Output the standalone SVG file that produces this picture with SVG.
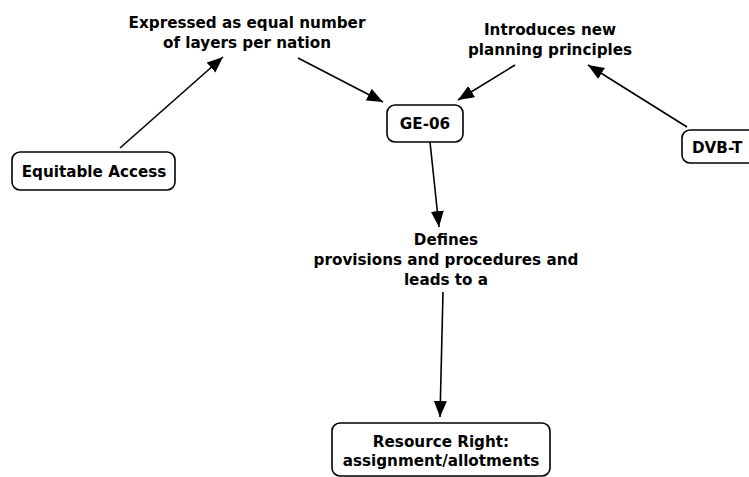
<svg xmlns="http://www.w3.org/2000/svg" width="749" height="477" viewBox="0 0 749 477">
<defs>
<marker id="ah" markerUnits="userSpaceOnUse" markerWidth="17" markerHeight="14" refX="16" refY="6.5" orient="auto">
<path d="M0,0 L16,6.5 L0,13 z" fill="#000"/>
</marker>
<style>
text{font-family:"DejaVu Sans","Liberation Sans",sans-serif;font-size:15.2px;font-weight:bold;fill:#000;text-anchor:middle}
.box{fill:#fff;stroke:#000;stroke-width:1.6}
.con line{stroke:#000;stroke-width:1.6;marker-end:url(#ah)}
</style>
</defs>
<rect width="749" height="477" fill="#fff"/>
<g id="connectors" class="con">
<line x1="120" y1="148" x2="223" y2="57"/>
<line x1="298" y1="58" x2="383" y2="102"/>
<line x1="687" y1="127" x2="588" y2="65"/>
<line x1="515" y1="65" x2="458" y2="100"/>
<line x1="430" y1="142" x2="439" y2="227"/>
<line x1="443" y1="292" x2="440" y2="417"/>
</g>
<g id="lp-expressed">
<text x="247" y="28">Expressed as equal number</text>
<text x="247" y="48">of layers per nation</text>
</g>
<g id="lp-introduces">
<text x="550" y="35">Introduces new</text>
<text x="550" y="55">planning principles</text>
</g>
<g id="lp-defines">
<text x="446" y="245">Defines</text>
<text x="446" y="265">provisions and procedures and</text>
<text x="446" y="285">leads to a</text>
</g>
<g id="equitable-access">
<rect class="box" x="12" y="152" width="163" height="38" rx="8"/>
<text x="94" y="177">Equitable Access</text>
</g>
<g id="ge-06">
<rect class="box" x="387" y="105" width="76" height="37" rx="8"/>
<text x="425" y="129">GE-06</text>
</g>
<g id="dvb-t">
<rect class="box" x="682" y="130" width="90" height="33" rx="8"/>
<text x="692" y="153" style="text-anchor:start">DVB-T</text>
</g>
<g id="resource-right">
<rect class="box" x="332" y="423" width="218" height="53" rx="8"/>
<text x="441" y="447">Resource Right:</text>
<text x="441" y="466">assignment/allotments</text>
</g>
</svg>
